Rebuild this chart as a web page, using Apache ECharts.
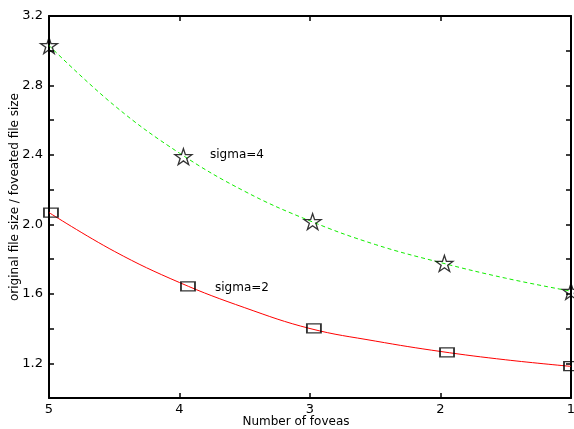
<!DOCTYPE html>
<html style="height: 100%">
<head>
<meta charset="utf-8">
</head>
<body style="height: 100%; margin: 0; background: #fff">
<div id="container" style="width: 574px; height: 429px"></div>
<script src="https://cdn.jsdelivr.net/npm/echarts@6/dist/echarts.min.js"></script>
<script>
// fitted curves, every half fovea
var curveX = [5, 4.5, 4, 3.5, 3, 2.5, 2, 1.5, 1];
var fitSigma4 = [3.03, 2.685, 2.41, 2.19, 2.02, 1.884, 1.78, 1.69, 1.615];
var fitSigma2 = [2.068, 1.845, 1.665, 1.52, 1.40, 1.328, 1.268, 1.22, 1.182];

// measured points (markers sit a little off the whole numbers)
var starX = [5.0, 3.97, 2.98, 1.97, 1.0];
var starY = [3.03, 2.39, 2.016, 1.775, 1.614];
var squareX = [4.985, 3.935, 2.97, 1.95, 1.0];
var squareY = [2.068, 1.643, 1.401, 1.263, 1.183];

var yLabelled = ['1.2', '1.6', '2.0', '2.4', '2.8', '3.2'];

function pairs(xs, ys) {
    return xs.map(function (x, i) { return [x, ys[i]]; });
}

var starPath = 'path://M50,2 L61,36 L97,36 L68,57 L79,92 L50,71 L21,92 L32,57 L3,36 L39,36 Z';
var font = 'DejaVu Sans';

var myChart = echarts.init(document.getElementById('container'));

var axisLine = {show: true, lineStyle: {color: '#000', width: 2}};
var axisTick = {show: true, inside: true, length: 5, lineStyle: {color: '#000', width: 1.5}};

var option = {
    animation: false,
    backgroundColor: '#fff',
    grid: {left: 49, right: 3, top: 16, bottom: 31, outerBoundsMode: 'none', containLabel: false},
    xAxis: [
        {
            type: 'value', min: 1, max: 5, interval: 1, inverse: true,
            position: 'bottom',
            name: 'Number of foveas', nameLocation: 'middle', nameGap: 18, nameMoveOverlap: false,
            nameTextStyle: {fontFamily: font, fontSize: 12, color: '#000', padding: [0, 28, 0, 0]},
            axisLine: axisLine, axisTick: axisTick,
            axisLabel: {fontFamily: font, fontSize: 13, color: '#000', margin: 5},
            splitLine: {show: false}
        },
        {
            type: 'value', min: 1, max: 5, interval: 1, inverse: true,
            position: 'top',
            axisLine: axisLine, axisTick: axisTick,
            axisLabel: {show: false}, splitLine: {show: false}
        }
    ],
    yAxis: [
        {
            type: 'value', min: 1.0, max: 3.2, interval: 0.2,
            position: 'left',
            name: 'original file size / foveated file size', nameLocation: 'middle', nameGap: 28, nameMoveOverlap: false,
            nameTextStyle: {fontFamily: font, fontSize: 12, color: '#000', padding: [0, 0, 0, 20]},
            axisLine: axisLine, axisTick: axisTick,
            axisLabel: {
                fontFamily: font, fontSize: 13, color: '#000', margin: 6,
                formatter: function (v) {
                    var s = v.toFixed(1);
                    return yLabelled.indexOf(s) >= 0 ? s : '';
                }
            },
            splitLine: {show: false}
        },
        {
            type: 'value', min: 1.0, max: 3.2, interval: 0.2,
            position: 'right',
            axisLine: axisLine, axisTick: axisTick,
            axisLabel: {show: false}, splitLine: {show: false}
        }
    ],
    series: [
        {
            name: 'sigma=4 fit', type: 'line', smooth: 0.4, showSymbol: false,
            data: pairs(curveX, fitSigma4),
            lineStyle: {color: '#11ee00', width: 1, type: [4, 3]}
        },
        {
            name: 'sigma=2 fit', type: 'line', smooth: 0.4, showSymbol: false,
            data: pairs(curveX, fitSigma2),
            lineStyle: {color: '#ff0000', width: 1}
        },
        {
            name: 'sigma=4', type: 'scatter', symbol: starPath, symbolSize: [17, 16],
            data: pairs(starX, starY),
            itemStyle: {color: 'rgba(0,0,0,0)', borderColor: '#000', borderWidth: 1.3},
            z: 5
        },
        {
            name: 'sigma=2', type: 'scatter', symbol: 'rect', symbolSize: [14, 9],
            data: pairs(squareX, squareY),
            itemStyle: {color: 'rgba(0,0,0,0)', borderColor: '#000', borderWidth: 1.5},
            z: 5
        }
    ],
    graphic: [
        {type: 'text', left: 210, top: 149, style: {text: 'sigma=4', font: '12px "DejaVu Sans"', fill: '#000'}},
        {type: 'text', left: 215, top: 282, style: {text: 'sigma=2', font: '12px "DejaVu Sans"', fill: '#000'}}
    ]
};

myChart.setOption(option);
</script>
</body>
</html>
